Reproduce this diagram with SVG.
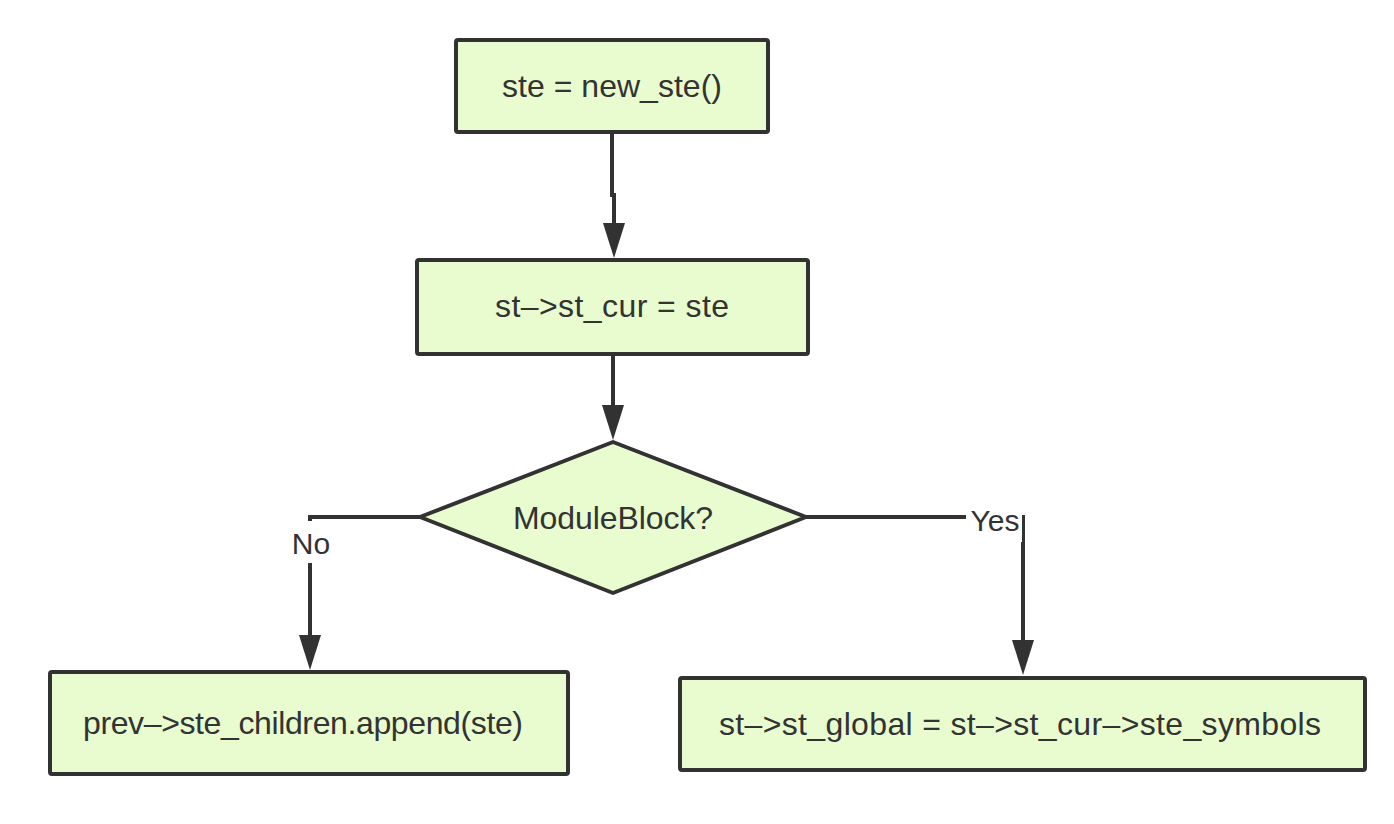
<svg xmlns="http://www.w3.org/2000/svg" width="1394" height="824" viewBox="0 0 1394 824">
<style>
.box{fill:#e8fccf;stroke:#323232;stroke-width:4;stroke-linejoin:round}
.t{font-family:"Liberation Sans",Arial,sans-serif;font-size:32px;fill:#333;text-anchor:middle}
.lbl{font-family:"Liberation Sans",Arial,sans-serif;font-size:30px;fill:#333;text-anchor:middle}
.edge{fill:none;stroke:#323232;stroke-width:4;marker-end:url(#ah)}
</style>
<defs>
<marker id="ah" markerUnits="userSpaceOnUse" markerWidth="36" markerHeight="24" viewBox="0 0 36 24" refX="16" refY="12" orient="auto">
<path d="M1,1 L36,12 L1,23 Z" fill="#323232"/>
</marker>
</defs>
<rect width="1394" height="824" fill="#ffffff"/>
<g id="connectors">
<path class="edge" d="M612,133 L612,195 L614,195 L614,238"/>
<path class="edge" d="M613,355 L613,420"/>
<path class="edge" d="M420,517 L310,517 L310,650"/>
<path class="edge" d="M806,517 L1023,517 L1023,655"/>
<rect x="287" y="521" width="48" height="42" fill="#ffffff"/>
<text class="lbl" x="311" y="554">No</text>
<rect x="966" y="503" width="56" height="39" fill="#ffffff"/>
<text class="lbl" x="995" y="531">Yes</text>
</g>
<g id="n1">
<rect class="box" x="456" y="40" width="312" height="92" rx="2"/>
<text class="t" x="612" y="97" textLength="220" lengthAdjust="spacing">ste = new_ste()</text>
</g>
<g id="n2">
<rect class="box" x="417" y="260" width="391" height="94" rx="2"/>
<text class="t" x="612" y="317" textLength="234" lengthAdjust="spacing">st–&gt;st_cur = ste</text>
</g>
<g id="n3">
<polygon class="box" points="420,517 613,442 806,517 613,593"/>
<text class="t" x="613" y="529" textLength="200" lengthAdjust="spacing">ModuleBlock?</text>
</g>
<g id="n4">
<rect class="box" x="50" y="672" width="518" height="102" rx="2"/>
<text class="t" x="303" y="734" textLength="440" lengthAdjust="spacing">prev–&gt;ste_children.append(ste)</text>
</g>
<g id="n5">
<rect class="box" x="680" y="678" width="685" height="92" rx="2"/>
<text class="t" x="1020" y="735" textLength="602" lengthAdjust="spacing">st–&gt;st_global = st–&gt;st_cur–&gt;ste_symbols</text>
</g>
</svg>
